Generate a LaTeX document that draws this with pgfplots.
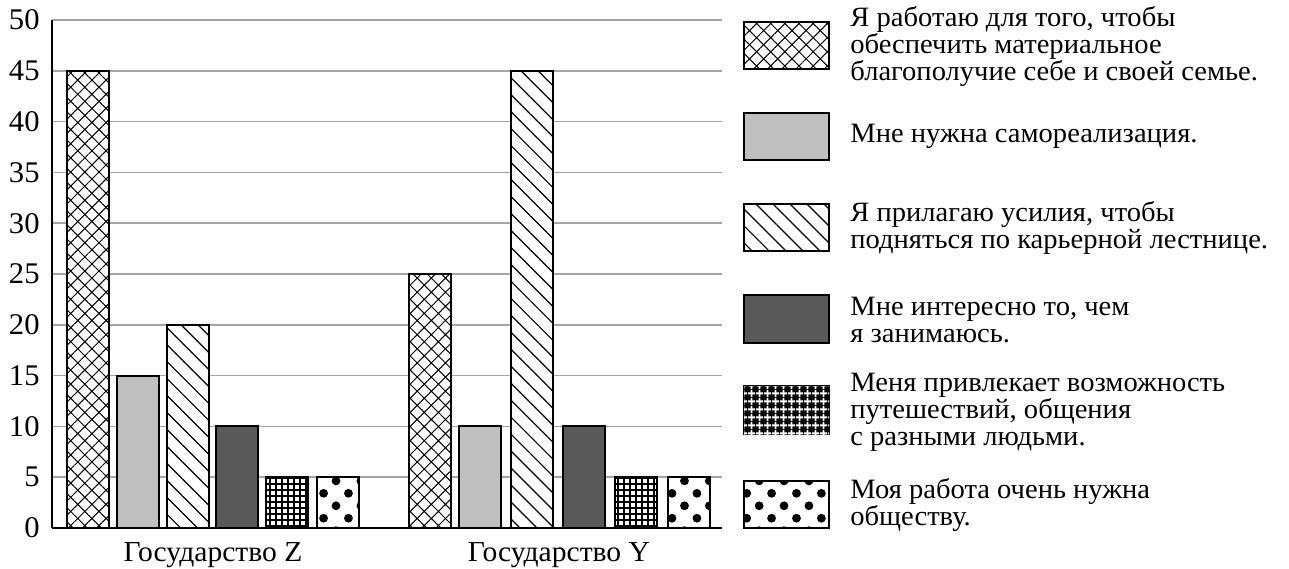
\documentclass[border=0pt]{standalone}
\usepackage{fontspec}
\setmainfont{Liberation Serif}[FakeStretch=1.02]
\usepackage{pgfplots}
\pgfplotsset{compat=1.18}
\usetikzlibrary{patterns.meta}

\definecolor{lgray}{RGB}{191,191,191}
\definecolor{dgray}{RGB}{89,89,89}
\definecolor{gridgray}{RGB}{165,165,165}

\tikzset{
  barbase/.style={draw=black, line width=1pt},
  p1/.style={barbase, fill=white, postaction={pattern={Hatch[angle=45,distance=5pt,line width=0.5pt]}}},
  p2/.style={barbase, fill=lgray},
  p3/.style={barbase, fill=white, postaction={pattern={Lines[angle=-45,distance=6pt,line width=0.6pt]}}},
  p4/.style={barbase, fill=dgray},
  p5/.style={barbase, fill=white, postaction={pattern={Hatch[angle=0,distance=3pt,line width=1pt]}}},
  p6/.style={barbase, fill=white, postaction={pattern={Dots[angle=45,distance=8.8pt,radius=2.2pt]}}},
  leg/.style={anchor=west, align=left, inner sep=0pt, font=\fontsize{14}{13.5}\selectfont},
}

\begin{document}
\begin{tikzpicture}
\useasboundingbox (-26pt,-20pt) rectangle (618.5pt,264pt);
\begin{axis}[
    at={(0pt,0pt)}, anchor=south west,
    scale only axis,
    width=335pt, height=254pt,
    xmin=52, xmax=722,
    ymin=0, ymax=50,
    axis lines*=left,
    axis line style={line width=1pt},
    ytick={0,5,...,50},
    xtick={213,559},
    xticklabels={Государство Z, Государство Y},
    major tick length=0pt,
    ymajorgrids,
    grid style={gridgray, line width=0.75pt},
    /pgf/number format/assume math mode=true,
    yticklabel style={font=\fontsize{15}{15}\selectfont, inner sep=0pt, xshift=-6pt},
    xticklabel style={font=\fontsize{14.5}{14.5}\selectfont, inner sep=0pt, anchor=north, yshift=-7pt},
    bar width=21pt,
]
% x positions are in reference pixels, one pixel = 0.5pt
\addplot[ybar, bar shift=0pt, p1] coordinates {(88,45) (429.5,25)};
\addplot[ybar, bar shift=0pt, p2] coordinates {(137.5,15) (479.5,10)};
\addplot[ybar, bar shift=0pt, p3] coordinates {(187.5,20) (532,45)};
\addplot[ybar, bar shift=0pt, p4] coordinates {(237,10) (584,10)};
\addplot[ybar, bar shift=0pt, p5] coordinates {(287,5) (635.5,5)};
\addplot[ybar, bar shift=0pt, p6] coordinates {(337.5,5) (689,5)};
\end{axis}

% legend
\draw[p1] (346pt,229.5pt) rectangle (388.5pt,253pt);
\draw[p2] (346pt,184pt) rectangle (388.5pt,207.5pt);
\draw[p3] (346pt,138.5pt) rectangle (388.5pt,162pt);
\draw[p4] (346pt,92.5pt) rectangle (388.5pt,116.5pt);
\draw[line width=1pt, fill=black, postaction={pattern={Hatch[angle=0,distance=4pt,line width=1pt]}, pattern color=white}] (346pt,47pt) rectangle (388.5pt,71pt);
\draw[p6] (346pt,0pt) rectangle (388.5pt,23.5pt);

\node[leg] at (399pt,240.5pt) {Я работаю для того, чтобы\\обеспечить материальное\\благополучие себе и своей семье.};
\node[leg] at (399pt,195.75pt) {Мне нужна самореализация.};
\node[leg] at (399pt,150pt) {Я прилагаю усилия, чтобы\\подняться по карьерной лестнице.};
\node[leg] at (399pt,104pt) {Мне интересно то, чем\\я занимаюсь.};
\node[leg] at (399pt,58pt) {Меня привлекает возможность\\путешествий, общения\\с разными людьми.};
\node[leg] at (399pt,11.5pt) {Моя работа очень нужна\\обществу.};
\end{tikzpicture}
\end{document}
